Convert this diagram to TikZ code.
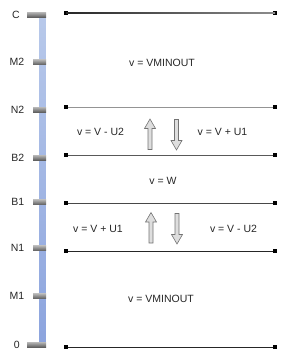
\documentclass[tikz,border=0pt]{standalone}
\usepackage{fontspec}
\setmainfont{Liberation Sans}
\begin{document}
\begin{tikzpicture}[x=1pt,y=-1pt,
  lbl/.style={font=\fontsize{10.5}{12}\selectfont, text=black!85, inner sep=0pt},
  tickbox/.style={top color=black!28, bottom color=black!62, draw=none},
  endsq/.style={fill=black, draw=none, minimum size=4pt, inner sep=0pt, rectangle},
  hline/.style={line width=1pt},
  arrowstyle/.style={fill=black!13, draw=black!55, line width=0.6pt, line join=miter},
  uparrow/.pic={\draw[arrowstyle] (-2,15)--(-2,-6)--(-5.5,-6)--(0,-15.5)--(5.5,-6)--(2,-6)--(2,15)--cycle;},
  downarrow/.pic={\draw[arrowstyle] (-2,-15)--(-2,6)--(-5.5,6)--(0,15.5)--(5.5,6)--(2,6)--(2,-15)--cycle;}
]
\useasboundingbox (0,0) rectangle (291,359);
% vertical bar
\shade[top color={rgb,255:red,184;green,201;blue,234}, bottom color={rgb,255:red,140;green,164;blue,222}] (39.5,14) rectangle (45.5,344);
% ticks
\shade[tickbox] (27,12) rectangle (46,17);
\shade[tickbox] (33,59.5) rectangle (46,64.5);
\shade[tickbox] (33,107) rectangle (46,112);
\shade[tickbox] (33,155) rectangle (46,160);
\shade[tickbox] (33,199.5) rectangle (46,204.5);
\shade[tickbox] (33,245.5) rectangle (46,250.5);
\shade[tickbox] (33,293.5) rectangle (46,298.5);
\shade[tickbox] (27,342) rectangle (46,347);
% tick labels
\node[lbl, anchor=east] (lC)  at (20,14.5) {C};
\node[lbl, anchor=east] (lM2) at (24.5,62) {M2};
\node[lbl, anchor=east] (lN2) at (24.5,110) {N2};
\node[lbl, anchor=east] (lB2) at (24.5,158) {B2};
\node[lbl, anchor=east] (lB1) at (24.5,202) {B1};
\node[lbl, anchor=east] (lN1) at (24.5,248) {N1};
\node[lbl, anchor=east] (lM1) at (24.5,296) {M1};
\node[lbl, anchor=east] (l0)  at (20,344.5) {0};
% horizontal lines with end squares
\node[endsq] (a1) at (66,13) {};  \node[endsq] (b1) at (275,13) {};
\node[endsq] (a2) at (66,107) {}; \node[endsq] (b2) at (275,107) {};
\node[endsq] (a3) at (66,155) {}; \node[endsq] (b3) at (275,155) {};
\node[endsq] (a4) at (66,203) {}; \node[endsq] (b4) at (275,203) {};
\node[endsq] (a5) at (66,251) {}; \node[endsq] (b5) at (275,251) {};
\node[endsq] (a6) at (66,347) {}; \node[endsq] (b6) at (275,347) {};
\shade[left color=black!85, right color=black!45] (66,12.5) rectangle (275,13.5);
\draw[hline, black!42] (a2) -- (b2);
\draw[hline, black!65] (a3) -- (b3);
\draw[hline, black!72] (a4) -- (b4);
\draw[hline, black!85] (a5) -- (b5);
\draw[hline, black!85] (a6) -- (b6);
% region texts
\node[lbl] (t1) at (162,63) {v = VMINOUT};
\node[lbl] (t2) at (100.5,131.5) {v = V - U2};
\node[lbl] (t3) at (222.5,131.5) {v = V + U1};
\node[lbl] (t4) at (163,181) {v = W};
\node[lbl] (t5) at (98,228.5) {v = V + U1};
\node[lbl] (t6) at (233.5,228.5) {v = V - U2};
\node[lbl] (t7) at (161,299) {v = VMINOUT};
% arrows
\pic at (150,134.5) {uparrow};
\pic at (176.5,134.5) {downarrow};
\pic at (151,228) {uparrow};
\pic at (177,228.5) {downarrow};
\end{tikzpicture}
\end{document}
